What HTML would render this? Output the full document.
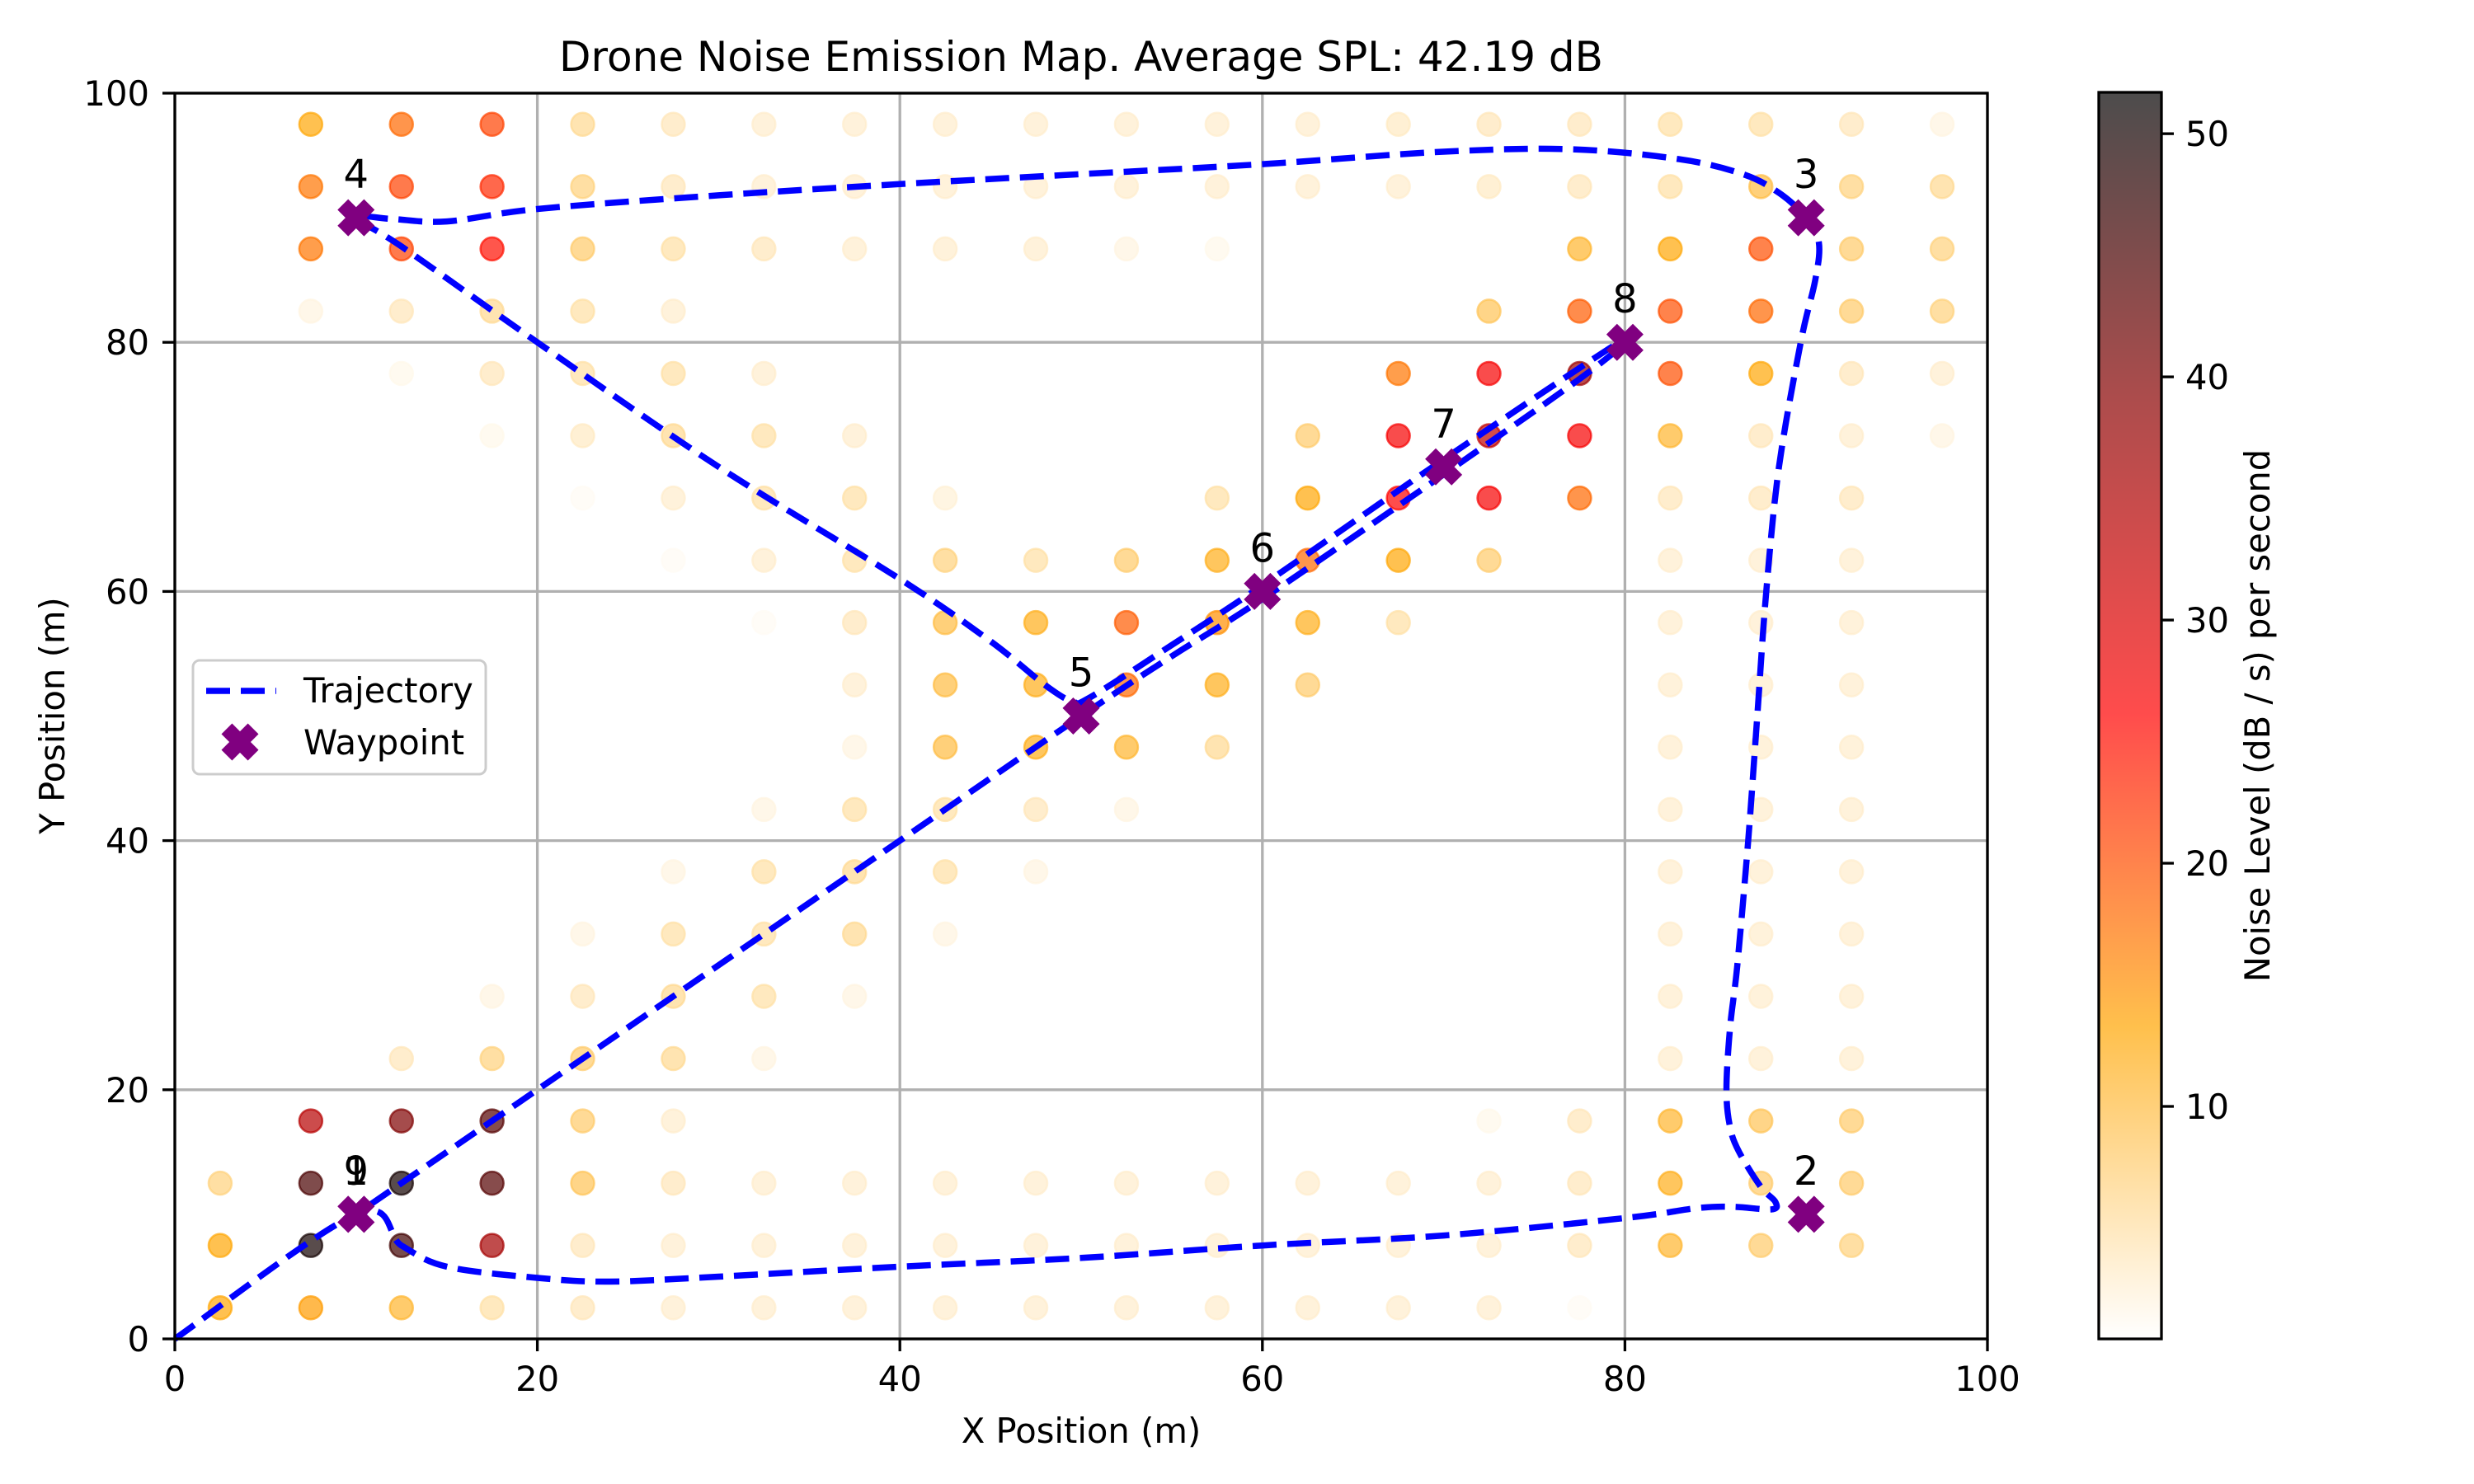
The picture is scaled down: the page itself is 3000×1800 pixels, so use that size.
<!DOCTYPE html>
<html><head><meta charset="utf-8"><style>
html,body{margin:0;padding:0;background:#fff;}
svg{display:block;font-family:"DejaVu Sans","Liberation Sans",sans-serif;}
</style></head><body>
<svg id="chart" width="3000" height="1800" viewBox="0 0 3000 1800" xmlns="http://www.w3.org/2000/svg">
<defs>
<linearGradient id="cbgrad" x1="0" y1="1" x2="0" y2="0">
<stop offset="0" stop-color="#ffffff" stop-opacity="0.7"/>
<stop offset="0.25" stop-color="#ffa500" stop-opacity="0.7"/>
<stop offset="0.5" stop-color="#ff0000" stop-opacity="0.7"/>
<stop offset="0.75" stop-color="#8b0000" stop-opacity="0.7"/>
<stop offset="1" stop-color="#000000" stop-opacity="0.7"/>
</linearGradient>
<clipPath id="plotclip"><rect x="212" y="113" width="2198" height="1511"/></clipPath>
</defs>
<rect width="3000" height="1800" fill="#fff"/>
<g id="grid"></g>
<g id="dots" clip-path="url(#plotclip)"></g>
<g id="traj"></g>
<g id="wps"></g>
<g id="axes"></g>
<text x="1311" y="86" font-size="50" text-anchor="middle">Drone Noise Emission Map. Average SPL: 42.19 dB</text>
<text x="1311" y="1750" font-size="41.7" text-anchor="middle">X Position (m)</text>
<text x="0" y="0" font-size="41.7" text-anchor="middle" transform="translate(78,868) rotate(-90)">Y Position (m)</text>
<g>
<rect x="234" y="801" width="355" height="138" rx="8" fill="#fff" fill-opacity="0.8" stroke="#cccccc" stroke-width="3"/>
<line x1="250" y1="838" x2="335" y2="838" stroke="#0000ff" stroke-width="7.5" stroke-dasharray="29 13"/>
<text x="368" y="852" font-size="41.7">Trajectory</text>
<polygon id="legmark" fill="#800080"/>
<text x="368" y="915" font-size="41.7">Waypoint</text>
</g>
<g id="cbar">
<rect x="2545" y="112" width="76" height="1512" fill="url(#cbgrad)" stroke="#000" stroke-width="3.3"/>
</g>
<text x="0" y="0" font-size="41.7" text-anchor="middle" transform="translate(2752,868) rotate(-90)">Noise Level (dB / s) per second</text>
</svg>
<script>
// ---- data ----
const gridXs = [2.5,7.5,12.5,17.5,22.5,27.5,32.5,37.5,42.5,47.5,52.5,57.5,62.5,67.5,72.5,77.5,82.5,87.5,92.5,97.5];
const gridYs = [97.5,92.5,87.5,82.5,77.5,72.5,67.5,62.5,57.5,52.5,47.5,42.5,37.5,32.5,27.5,22.5,17.5,12.5,7.5,2.5];
const noiseRows = [
[0,13,18,21,6,4,3,3,3,3,3,3,3,3.5,4,4,5,5,4,2],
[0,17,21,23,7,4,3,3,3,3,3,3,3,3,3.5,4,5,10,7,6],
[0,17,21,25,8,5,4,3,3,3,2,1.5,0,0,0,11,13,20,8,7],
[0,2,4,6,5,3,0,0,0,0,0,0,0,0,9,19,20,18,8,7],
[0,0,1.5,4,5,5,3,0,0,0,0,0,0,17,27,37,20,13,4,3],
[0,0,0,1.5,3.5,6,5,3,0,0,0,0,8,27,33,27,11,4,3,2],
[0,0,0,0,1,3,5,5,2.5,0,0,5,13,26,27,18,4,4,4,0],
[0,0,0,0,0,1,3,5,7,5,8,12,18,13,8,0,3,3,3,0],
[0,0,0,0,0,0,1,4,10,12,19,15,12,5,0,0,3,3,3,0],
[0,0,0,0,0,0,0,3,10,12,18,12,8,0,0,0,3,3,3,0],
[0,0,0,0,0,0,0,2,10,12,11,6,0,0,0,0,3,3,3,0],
[0,0,0,0,0,0,2,5,5,4,2,0,0,0,0,0,3,3,3,0],
[0,0,0,0,0,2,5,6,5,2,0,0,0,0,0,0,3,3,3,0],
[0,0,0,0,2,5,5,6,2,0,0,0,0,0,0,0,3,3,3,0],
[0,0,0,2,4,6,5,2,0,0,0,0,0,0,0,0,3,3,3,0],
[0,0,4,7,8,6,2,0,0,0,0,0,0,0,0,0,3,3,3,0],
[0,34,40,44,8,3,0,0,0,0,0,0,0,0,1.5,4,11,9,8,0],
[7,45,50,44,9,4,3,3,3,3,3,3,3,3,3,4,12,8,8,0],
[13,50,46,36,4,3,3,3,3,3,3,3,3,3,3,4,11,8,7,0],
[13,14,11,5,4,3,3,3,3,3,3,3,3,3,3,1,0,0,0,0]
];
const wpX = [10,90,90,10,50,60,70,80,10];
const wpY = [10,10,90,90,50,60,70,80,10];
const wpLabels = ["1","2","3","4","5","6","7","8","9"];
const trajX = [0,10,12.5,15,20,24,30,40,50,60,70,80,84,86,88.1,88.3,87.5,86.3,85.8,85.6,85.8,86.2,86.8,87.3,87.8,88.5,89.7,90.5,90.7,90,88.5,86.5,83,77,70,60,50,40,30,20,15,12,10,12.5,20,30,40,45,48,49.5,50.5,55,60,70,80,78,70,60,55,50,40,30,20,10];
const trajY = [0,10,7.5,5.8,4.9,4.6,5,5.8,6.5,7.5,8.3,9.7,10.5,10.6,10.4,11,12.2,15,17,20,25,30,40,50,60,70,80,85,88,90,92,93.5,94.7,95.5,95.3,94.3,93.5,92.7,91.8,90.7,89.7,89.9,90,87.7,80,70,61,56,52.5,51.2,51.5,55.7,60.5,70.6,80.3,77.6,69.4,59.4,54.8,50,40,30,20,10];
const xTicks = [0,20,40,60,80,100];
const yTicks = [0,20,40,60,80,100];
const cbTicks = [10,20,30,40,50];
const vMin = 0.44, vMax = 51.7;

// ---- scales ----
const X0=212, X1=2410, Y0=1624, Y1=113;
const sx = v => X0 + (v/100)*(X1-X0);
const sy = v => Y0 - (v/100)*(Y0-Y1);
const cbY = v => 1624 - (v-vMin)/(vMax-vMin)*1512;
const NS='http://www.w3.org/2000/svg';
function mk(tag, attrs, parent){const e=document.createElementNS(NS,tag);for(const k in attrs)e.setAttribute(k,attrs[k]);parent.appendChild(e);return e;}
const stops=[[0,[255,255,255]],[0.25,[255,165,0]],[0.5,[255,0,0]],[0.75,[139,0,0]],[1,[0,0,0]]];
function cmap(v){let t=(v-vMin)/(vMax-vMin);t=Math.max(0,Math.min(1,t));
for(let i=0;i<stops.length-1;i++){const[a,ca]=stops[i],[b,cb]=stops[i+1];if(t<=b){const f=(t-a)/(b-a);return 'rgb('+ca.map((c,k)=>Math.round(c+(cb[k]-c)*f)).join(',')+')';}}return 'rgb(0,0,0)';}

const grid=document.getElementById('grid');
xTicks.forEach(t=>{const l=mk('line',{x1:sx(t),x2:sx(t),y1:Y0,y2:Y1,stroke:'#b0b0b0','stroke-width':3.3},grid);

});
yTicks.forEach(t=>{const l=mk('line',{x1:X0,x2:X1,y1:sy(t),y2:sy(t),stroke:'#b0b0b0','stroke-width':3.3},grid);

});

const dots=document.getElementById('dots');
noiseRows.forEach((row,j)=>row.forEach((v,i)=>{
 if(v<=0) return;
 const c=cmap(v);
 const d=mk('circle',{cx:sx(gridXs[i]),cy:sy(gridYs[j]),r:14,fill:c,'fill-opacity':0.7,stroke:c,'stroke-opacity':0.7,'stroke-width':2.5},dots);
 
 
}));

const traj=document.getElementById('traj');
const P=trajX.map((x,k)=>[sx(x),sy(trajY[k])]);
let dstr='M'+P[0][0].toFixed(1)+','+P[0][1].toFixed(1);
for(let k=0;k<P.length-1;k++){
 const p0=P[Math.max(0,k-1)],p1=P[k],p2=P[k+1],p3=P[Math.min(P.length-1,k+2)];
 const c1=[p1[0]+(p2[0]-p0[0])/6,p1[1]+(p2[1]-p0[1])/6];
 const c2=[p2[0]-(p3[0]-p1[0])/6,p2[1]-(p3[1]-p1[1])/6];
 dstr+=' C'+c1.map(v=>v.toFixed(1)).join(',')+' '+c2.map(v=>v.toFixed(1)).join(',')+' '+p2.map(v=>v.toFixed(1)).join(',');
}
const pl=mk('path',{d:dstr,fill:'none',stroke:'#0000ff','stroke-width':7.5,'stroke-dasharray':'29 13','stroke-linejoin':'round'},traj);



function xPoly(cx,cy){const a=22.7,h=9.1;const p=[[-h,-a],[h,-a],[h,-h],[a,-h],[a,h],[h,h],[h,a],[-h,a],[-h,h],[-a,h],[-a,-h],[-h,-h]];
const c=Math.SQRT1_2;return p.map(([x,y])=>(cx+(x-y)*c).toFixed(1)+','+(cy+(x+y)*c).toFixed(1)).join(' ');}
const wps=document.getElementById('wps');
wpX.forEach((x,k)=>{
 const m=mk('polygon',{points:xPoly(sx(x),sy(wpY[k])),fill:'#800080'},wps);
 
 
 const t=mk('text',{x:sx(x),y:sy(wpY[k])-36,'font-size':48,'text-anchor':'middle'},wps);
 t.textContent=wpLabels[k];
 
 
});
document.getElementById('legmark').setAttribute('points',xPoly(291,900));

const axes=document.getElementById('axes');
const fr=mk('rect',{x:X0,y:Y1,width:X1-X0,height:Y0-Y1,fill:'none',stroke:'#000','stroke-width':3.3},axes);


xTicks.forEach(t=>{
 const l=mk('line',{x1:sx(t),x2:sx(t),y1:Y0,y2:Y0+15,stroke:'#000','stroke-width':3.3},axes);
 
 
 const tx=mk('text',{x:sx(t),y:1687,'font-size':41.7,'text-anchor':'middle'},axes);
 tx.textContent=t;
 
 
});
yTicks.forEach(t=>{
 const l=mk('line',{x1:X0-15,x2:X0,y1:sy(t),y2:sy(t),stroke:'#000','stroke-width':3.3},axes);
 
 
 const tx=mk('text',{x:181,y:sy(t)+15,'font-size':41.7,'text-anchor':'end'},axes);
 tx.textContent=t;
 
 
});
const cbar=document.getElementById('cbar');
cbTicks.forEach(t=>{
 const l=mk('line',{x1:2621,x2:2636,y1:cbY(t),y2:cbY(t),stroke:'#000','stroke-width':3.3},cbar);
 
 
 const tx=mk('text',{x:2650,y:cbY(t)+15,'font-size':41.7},cbar);
 tx.textContent=t;
 
 
});
</script>
</body></html>
